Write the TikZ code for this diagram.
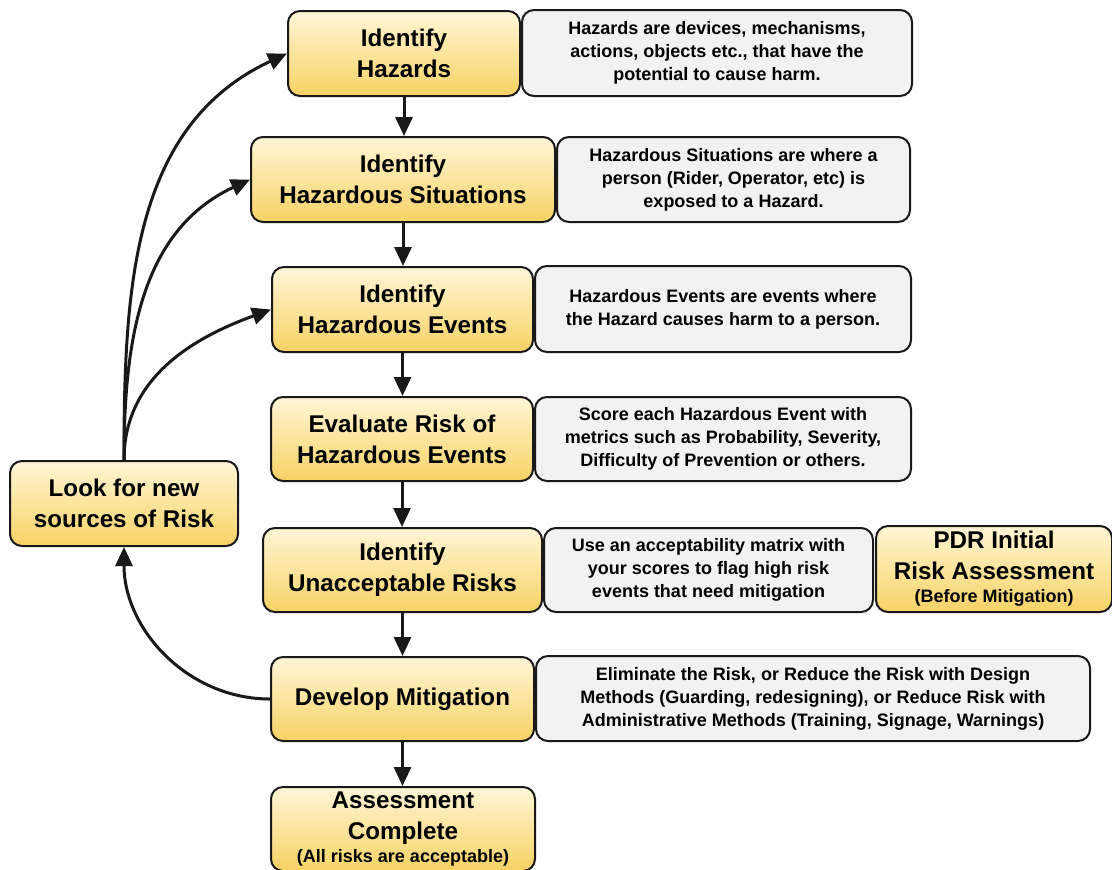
\documentclass[tikz,border=0pt]{standalone}
\usepackage{fontspec}
\setmainfont{Liberation Sans}
\usetikzlibrary{arrows.meta}
\definecolor{stepTop}{RGB}{255,246,214}
\definecolor{stepBot}{RGB}{247,210,100}
\definecolor{noteFill}{RGB}{242,242,242}
\definecolor{lineDark}{RGB}{25,25,25}
\tikzset{
  stepbox/.style={draw=lineDark, line width=1pt, rounded corners=6pt,
    top color=stepTop, bottom color=stepBot, align=center, inner sep=2pt,
    font=\bfseries\fontsize{12.1}{15.5}\selectfont},
  notebox/.style={draw=lineDark, line width=1pt, rounded corners=6pt,
    fill=noteFill, align=center, inner sep=2pt,
    font=\bfseries\fontsize{9}{11.5}\selectfont},
  flow/.style={-{Triangle[length=9.5pt,width=8.5pt]}, line width=1.5pt, lineDark},
}
\newcommand{\subnote}[1]{{\fontsize{9}{10}\selectfont #1}}
\begin{document}
\begin{tikzpicture}[x=0.5pt, y=-0.5pt]
    \useasboundingbox (0,0) rectangle (1112,869);
    % main steps
    \node[stepbox, minimum width=116pt, minimum height=42.5pt] (haz) at (404,53.5) {Identify\\Hazards};
    \node[stepbox, minimum width=152pt, minimum height=42.5pt] (sit) at (403,179.5) {Identify\\Hazardous Situations};
    \node[stepbox, minimum width=130.5pt, minimum height=42.5pt] (evt) at (402.5,309.5) {Identify\\Hazardous Events};
    \node[stepbox, minimum width=131pt, minimum height=42pt] (eval) at (402,439) {Evaluate Risk of\\Hazardous Events};
    \node[stepbox, minimum width=139.5pt, minimum height=42pt] (unacc) at (402.5,570) {Identify\\Unacceptable Risks};
    \node[stepbox, minimum width=131.5pt, minimum height=42pt] (mit) at (402.5,699) {Develop Mitigation};
    \node[stepbox, minimum width=132pt, minimum height=42pt, inner sep=0pt] (done) at (403,829) {Assessment\\Complete\\[-4pt]\subnote{(All risks are acceptable)}};
    \node[stepbox, minimum width=114pt, minimum height=42.5pt] (look) at (124,503.5) {Look for new\\sources of Risk};
    \node[stepbox, minimum width=118pt, minimum height=43pt, inner sep=0pt] (pdr) at (994,569) {PDR Initial\\Risk Assessment\\[-4pt]\subnote{(Before Mitigation)}};
    % notes
    \node[notebox, minimum width=195pt, minimum height=43pt] (hazd) at (717,53) {Hazards are devices, mechanisms,\\actions, objects etc., that have the\\potential to cause harm.};
    \node[notebox, minimum width=176.5pt, minimum height=42.5pt] (sitd) at (733.5,179.5) {Hazardous Situations are where a\\person (Rider, Operator, etc) is\\exposed to a Hazard.};
    \node[notebox, minimum width=188pt, minimum height=43pt] (evtd) at (723,309) {Hazardous Events are events where\\the Hazard causes harm to a person.};
    \node[notebox, minimum width=188pt, minimum height=42pt] (evald) at (723,439) {Score each Hazardous Event with\\metrics such as Probability, Severity,\\Difficulty of Prevention or others.};
    \node[notebox, minimum width=164.5pt, minimum height=42pt] (unaccd) at (708.5,570) {Use an acceptability matrix with\\your scores to flag high risk\\events that need mitigation};
    \node[notebox, minimum width=277pt, minimum height=42.5pt] (mitd) at (813,698.5) {Eliminate the Risk, or Reduce the Risk with Design\\Methods (Guarding, redesigning), or Reduce Risk with\\Administrative Methods (Training, Signage, Warnings)};
    % straight flow
    \draw[flow] (haz.south) -- (haz.south |- sit.north);
    \draw[flow] (sit.south) -- (sit.south |- evt.north);
    \draw[flow] (evt.south) -- (evt.south |- eval.north);
    \draw[flow] (eval.south) -- (eval.south |- unacc.north);
    \draw[flow] (unacc.south) -- (unacc.south |- mit.north);
    \draw[flow] (mit.south) -- (mit.south |- done.north);
    % loop back
    \draw[flow] (mit.west) to[out=180, in=-90] (look.south);
    \draw[flow] (look.north) to[out=90, in=205] (haz.west);
    \draw[flow] (look.north) to[out=90, in=205] (sit.west);
    \draw[flow] (look.north) to[out=90, in=200] (evt.west);
\end{tikzpicture}
\end{document}
